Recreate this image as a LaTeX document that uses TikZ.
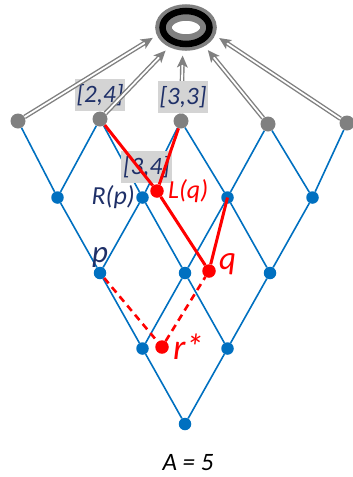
\documentclass[tikz,border=0pt]{standalone}
\usepackage{fontspec}
\setmainfont{Carlito}
\usetikzlibrary{arrows.meta, positioning, shapes.geometric, backgrounds, decorations.markings}
\definecolor{latblue}{HTML}{0070C0}
\definecolor{navy}{HTML}{1F3068}
\definecolor{boxgray}{HTML}{D4D4D4}

\begin{document}
\begin{tikzpicture}[x=1pt, y=-1pt,
  gdot/.style={circle, fill=gray, inner sep=0, minimum size=15pt},
  bdot/.style={circle, fill=latblue, inner sep=0, minimum size=12.5pt},
  rdot/.style={circle, fill=red, inner sep=0, minimum size=13.5pt},
  lat/.style={latblue, line width=1.6pt},
  redln/.style={red, line width=3pt},
  reddash/.style={red, line width=2.6pt, dash pattern=on 7pt off 5pt},
  dbl/.style={draw=gray, line width=1.4pt, double=white, double distance=1.8pt,
    shorten >=14pt, postaction={decorate},
    decoration={markings, mark=at position -5pt with
      {\arrow[gray]{Stealth[length=12pt, width=11pt, inset=3pt, line width=0pt]}}}},
  tag/.style={fill=boxgray, text=navy, inner sep=2pt, minimum height=32pt,
    font=\fontsize{25}{28}\selectfont\itshape},
  lbl/.style={inner sep=0, font=\fontsize{26}{30}\selectfont\itshape}]
\useasboundingbox (0,0) rectangle (353,477);

% sink at the top
\node[ellipse, draw=gray, line width=16.5pt, minimum width=45pt, minimum height=30pt,
  inner sep=0] (sink) at (186,27.5) {};
\draw[line width=6.5pt] (sink.center) ellipse (23.5pt and 16.5pt);

% top row (grey) and the lattice below it
\foreach \x/\y [count=\i from 0] in {18/121,100/119,181/121,268/124,347/123}
  \node[gdot] (n-0-\i) at (\x,\y) {};
\foreach \j in {1,...,4}{
  \pgfmathtruncatemacro\last{4-\j}
  \foreach \i in {0,...,\last}
    \node[bdot] (n-\j-\i) at ({15+85*\i+42.5*\j},{122+75.5*\j}) {};
}
\begin{scope}[on background layer]
\foreach \j in {1,...,4}{
  \pgfmathtruncatemacro\last{4-\j}
  \pgfmathtruncatemacro\up{\j-1}
  \foreach \i in {0,...,\last}{
    \pgfmathtruncatemacro\nx{\i+1}
    \draw[lat] (n-\up-\i) -- (n-\j-\i) -- (n-\up-\nx);
  }
}
\end{scope}

% red points
\node[rdot] (Lq) at (157,191) {};
\node[rdot] (q) at (209,271) {};
\node[rdot] (r) at (162,347) {};

% the middle arrow runs behind its tag
\draw[dbl] (n-0-2) -- (sink.262);

% grey tags
\node[tag, above=0pt of n-0-1] (t24) {[2,4]};
\node[tag, above=0pt of n-0-2, xshift=2pt] (t33) {[3,3]};
\node[tag, above=8pt of n-1-1, xshift=4pt] (t34) {[3,4]};

% arrows to the sink
\draw[dbl] (n-0-0) -- (sink.195);
\draw[dbl] (n-0-1) -- (sink.229);
\draw[dbl] (n-0-3) -- (sink.315);
\draw[dbl] (n-0-4) -- (sink.345);

% red paths
\draw[redln] (n-0-1) -- (Lq) -- (q);
\draw[redln] (n-0-2) -- (Lq);
\draw[redln] (q) -- (n-1-2.center);
\draw[reddash] (n-2-0) -- (r) -- (q);

% labels
\node[lbl, text=navy, left=1pt of n-1-1] (lRp) {R(p)};
\node[lbl, text=red, right=4pt of Lq] (lLq) {L(q)};
\node[lbl, text=navy, above=-1pt of n-2-0, font=\fontsize{31}{34}\selectfont\itshape] (lp) {p};
\node[lbl, text=red, right=3pt of q, yshift=7pt, font=\fontsize{33}{36}\selectfont\itshape] (lq) {q};
\node[lbl, text=red, right=4pt of r, font=\fontsize{36}{40}\selectfont\itshape] (lr) {r*};
\node[lbl, font=\fontsize{25}{28}\selectfont\itshape] (area) at (188,463) {A = 5};
\end{tikzpicture}
\end{document}
